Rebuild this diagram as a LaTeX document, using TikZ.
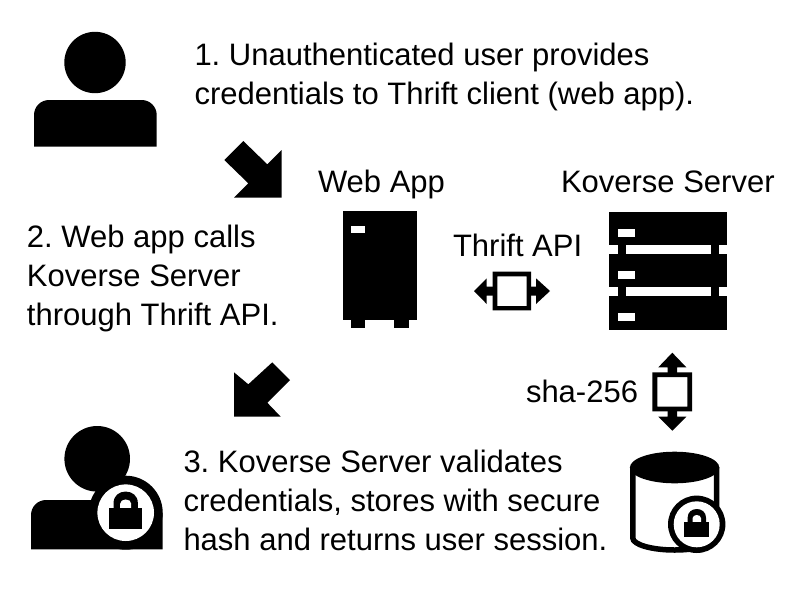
\documentclass[tikz,border=0pt]{standalone}
\usepackage{fontspec}
\setmainfont{Liberation Sans}
\frenchspacing
\newcommand{\padlock}[3]{%
  \begin{scope}[shift={(#1,#2)},scale=#3]
    \fill[black] (-9.2,0.5) -- (-9.2,-4) .. controls (-9.2,-9.5) and (-5,-12.7) .. (0,-12.7) .. controls (5,-12.7) and (9.2,-9.5) .. (9.2,-4) -- (9.2,0.5) -- cycle;
    \fill[white] (-4.2,0.5) -- (-4.2,-3.5) .. controls (-4.2,-5.5) and (-2.2,-6.7) .. (0,-6.7) .. controls (2.2,-6.7) and (4.2,-5.5) .. (4.2,-3.5) -- (4.2,0.5) -- cycle;
    \fill[black] (-12.5,0) rectangle (12.5,15.6);
  \end{scope}}
\begin{document}
\begin{tikzpicture}[x=1pt,y=-1pt,
  label text/.style={font=\fontsize{31}{39}\selectfont\frenchspacing,inner sep=0pt,outer sep=0pt,align=left,anchor=north west},
  one line/.style={font=\fontsize{31}{39}\selectfont,inner sep=0pt,outer sep=0pt,anchor=base west}]
\useasboundingbox (0,0) rectangle (800,600);
% user
\fill (95,62.5) circle (30.7pt);
\fill (34,146.7) -- (34,115) .. controls (34,106.7) and (40.7,100) .. (49,100) -- (141.7,100) .. controls (150,100) and (156.7,106.7) .. (156.7,115) -- (156.7,146.7) -- cycle;
% arrows
\fill (224.3,160) -- (243.3,141) -- (267.3,164.3) -- (281.7,150) -- (281.7,197.7) -- (234,197.7) -- (248.3,183.3) -- cycle;
\fill (234,416.7) -- (234,372.3) -- (248.3,384.3) -- (272.3,362.3) -- (290,380) -- (267.3,402.7) -- (280.7,416.7) -- cycle;
% web app
\fill (343.3,211) rectangle (416.7,320);
\fill (350.7,320) rectangle (365,327.7);
\fill (394.3,320) rectangle (409,327.7);
\fill[white] (350.7,225.7) rectangle (365,232.7);
% thrift arrow
\fill (474,291) -- (486.7,278.3) -- (486.7,286.7) -- (493,286.7) -- (493,295.7) -- (486.7,295.7) -- (486.7,304) -- cycle;
\fill (550,291) -- (536,278.3) -- (536,286.7) -- (530,286.7) -- (530,295.7) -- (536,295.7) -- (536,304) -- cycle;
\fill[even odd rule] (492.7,271.7) rectangle (531,310.3) (497.3,276.3) rectangle (526.7,306);
% koverse server
\fill (609.3,212) rectangle (727.3,245);
\fill (609.3,254) rectangle (727.3,287.3);
\fill (609.3,296.3) rectangle (727.3,330);
\foreach \a/\b in {245/254,287.3/296.3}{
  \fill (618.3,\a) rectangle (626.3,\b);
  \fill (710.7,\a) rectangle (719.3,\b);
}
\fill[white] (618.3,229) rectangle (635,237.3);
\fill[white] (618.3,271) rectangle (635,279.3);
\fill[white] (618.3,313.3) rectangle (635,321.3);
% sha arrow
\fill (672.3,352.7) -- (686.3,367.3) -- (677,367.3) -- (677,373) -- (667.7,373) -- (667.7,367.3) -- (658.3,367.3) -- cycle;
\fill (672.3,430.7) -- (686.3,416.7) -- (677,416.7) -- (677,411) -- (667.7,411) -- (667.7,416.7) -- (658.3,416.7) -- cycle;
\fill[even odd rule] (652.3,372.3) rectangle (692,411.3) (657.3,377) rectangle (687.3,406.7);
% secured user
\fill (97.2,458.8) circle (32.8pt);
\fill (31,549.3) -- (31,515) .. controls (31,506.7) and (37.7,500) .. (46,500) -- (120,500) -- (162.7,512.7) -- (162.7,549.3) -- cycle;
\fill (125.7,512.7) circle (37pt);
\fill[white] (125.7,512.7) circle (28.3pt);
\padlock{125.7}{508.3}{1.32}
% database
\draw[line width=5.5pt] (632.8,467) -- (632.8,538) .. controls (632.8,544.6) and (651.7,550) .. (674.6,550) .. controls (697.7,550) and (716.5,544.6) .. (716.5,538) -- (716.5,467);
\fill (674.6,467.5) ellipse [x radius=44.7pt,y radius=15.8pt];
\fill (696.7,524.3) circle (28.7pt);
\fill[white] (696.7,524.3) circle (23pt);
\padlock{696.8}{521.7}{1}
% text
\node[label text] (t1) at (194.5,43.5) {1. Unauthenticated user provides\\credentials to Thrift client (web app).};
\node[label text] (t2) at (27,225.5) {2. Web app calls\\Koverse Server\\through Thrift API.};
\node[label text] (t3) at (183.5,450.3) {3. Koverse Server validates\\credentials, stores with secure\\hash and returns user session.};
\node[one line] (webapp) at (318,192) {Web App};
\node[one line] (koverse) at (561,192) {Koverse Server};
\node[one line] (thrift) at (453,256) {Thrift API};
\node[one line] (sha) at (526,402) {sha-256};
\end{tikzpicture}
\end{document}
